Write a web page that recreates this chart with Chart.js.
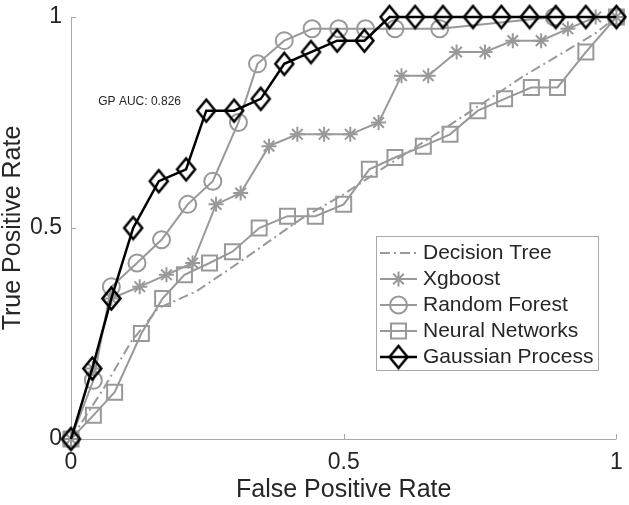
<!DOCTYPE html>
<html>
<head>
<meta charset="utf-8">
<script src="https://cdn.jsdelivr.net/npm/chart.js@4/dist/chart.umd.min.js"></script>
<style>
  body { margin: 0; background: #fff; }
  canvas { display: block; }
</style>
</head>
<body>
<canvas id="rocChart" width="629" height="505"></canvas>
<script>
// tick values / labels for both axes
const tickValues = [0, 0.5, 1];
const tickLabels = ['0', '0.5', '1'];

const seriesNames = ['Decision Tree', 'Xgboost', 'Random Forest', 'Neural Networks', 'Gaussian Process'];

// Decision Tree (dash-dot, no markers)
const dtX = [0, 0.06, 0.11, 0.16, 0.23, 0.31, 0.42, 0.50, 0.57, 0.69, 0.83, 0.96, 1];
const dtY = [0, 0.12, 0.23, 0.31, 0.35, 0.42, 0.52, 0.58, 0.64, 0.74, 0.86, 0.96, 1];

// Xgboost
const xgX = [0, 0.04, 0.074, 0.126, 0.175, 0.223, 0.266, 0.311, 0.363, 0.415, 0.464, 0.512, 0.564, 0.606, 0.655, 0.707, 0.759, 0.810, 0.862, 0.911, 0.962, 1];
const xgY = [0, 0.167, 0.333, 0.361, 0.389, 0.417, 0.556, 0.583, 0.694, 0.722, 0.722, 0.722, 0.75, 0.861, 0.861, 0.917, 0.917, 0.944, 0.944, 0.972, 1, 1];

// Random Forest
const rfX = [0, 0.041, 0.074, 0.121, 0.166, 0.214, 0.260, 0.307, 0.342, 0.391, 0.442, 0.491, 0.540, 0.594, 0.676, 0.886, 1];
const rfY = [0, 0.139, 0.361, 0.417, 0.472, 0.556, 0.611, 0.75, 0.889, 0.944, 0.972, 0.972, 0.972, 0.972, 0.972, 1, 1];

// Neural Networks
const nnX = [0, 0.041, 0.080, 0.129, 0.168, 0.208, 0.254, 0.296, 0.345, 0.397, 0.448, 0.50, 0.547, 0.594, 0.646, 0.695, 0.746, 0.795, 0.844, 0.892, 0.944, 1];
const nnY = [0, 0.056, 0.111, 0.25, 0.333, 0.389, 0.417, 0.444, 0.5, 0.528, 0.528, 0.556, 0.639, 0.667, 0.694, 0.722, 0.778, 0.806, 0.833, 0.833, 0.917, 1];

// Gaussian Process
const gpX = [0, 0.039, 0.074, 0.114, 0.161, 0.211, 0.248, 0.299, 0.348, 0.391, 0.440, 0.488, 0.538, 0.584, 0.631, 0.682, 0.737, 0.789, 0.841, 0.889, 0.944, 1];
const gpY = [0, 0.167, 0.333, 0.5, 0.611, 0.639, 0.778, 0.778, 0.806, 0.889, 0.917, 0.944, 0.944, 1, 1, 1, 1, 1, 1, 1, 1, 1];

const aucText = 'GP AUC: 0.826';
const aucPos = [0.05, 0.8];

const GRAY = '#999999';
const AXIS = '#a8a8a8';
const TEXT = '#262626';
const FONT = "'Liberation Sans', Arial, Helvetica, sans-serif";
const NONE = 'rgba(0,0,0,0)';

function toPoints(xs, ys) {
    return xs.map(function (x, i) { return { x: x, y: ys[i] }; });
}

// matlab style diamond is a bit taller than wide
function diamondMarker(w, h, lw, color) {
    const c = document.createElement('canvas');
    c.width = w + 2 * lw;
    c.height = h + 2 * lw;
    const g = c.getContext('2d');
    const cx = c.width / 2, cy = c.height / 2;
    g.strokeStyle = color;
    g.lineWidth = lw;
    g.lineJoin = 'miter';
    g.beginPath();
    g.moveTo(cx, cy - h / 2);
    g.lineTo(cx + w / 2, cy);
    g.lineTo(cx, cy + h / 2);
    g.lineTo(cx - w / 2, cy);
    g.closePath();
    g.stroke();
    return c;
}

function makeSeries(name, xs, ys, color, style, radius, width, dash, order) {
    return {
        label: name,
        data: toPoints(xs, ys),
        showLine: true,
        borderColor: color,
        borderWidth: width,
        borderDash: dash,
        pointStyle: style,
        pointRadius: radius,
        pointBorderColor: color,
        pointBorderWidth: width,
        pointBackgroundColor: NONE,
        tension: 0,
        clip: false,
        order: order
    };
}

// axis lines with inward ticks, AUC text and the boxed legend
const matlabLook = {
    id: 'matlabLook',
    beforeDatasetsDraw(chart) {
        const ctx = chart.ctx;
        const area = chart.chartArea;
        const xs = chart.scales.x;
        const ys = chart.scales.y;
        ctx.save();
        ctx.strokeStyle = AXIS;
        ctx.lineWidth = 1;
        ctx.beginPath();
        ctx.moveTo(area.left + 0.5, area.top);
        ctx.lineTo(area.left + 0.5, area.bottom + 0.5);
        ctx.lineTo(area.right, area.bottom + 0.5);
        tickValues.forEach(function (v) {
            const px = Math.round(xs.getPixelForValue(v)) + 0.5;
            ctx.moveTo(px, area.bottom);
            ctx.lineTo(px, area.bottom - 5);
            const py = Math.round(ys.getPixelForValue(v)) + 0.5;
            ctx.moveTo(area.left, py);
            ctx.lineTo(area.left + 5, py);
        });
        ctx.stroke();

        ctx.fillStyle = TEXT;
        ctx.font = '12px ' + FONT;
        ctx.textAlign = 'left';
        ctx.textBaseline = 'middle';
        ctx.fillText(aucText, xs.getPixelForValue(aucPos[0]), ys.getPixelForValue(aucPos[1]));
        ctx.restore();
    },
    afterDraw(chart) {
        const ctx = chart.ctx;
        const box = { left: 376, top: 236, right: 598, bottom: 370 };
        ctx.save();
        ctx.fillStyle = '#fff';
        ctx.fillRect(box.left, box.top, box.right - box.left, box.bottom - box.top);
        ctx.strokeStyle = AXIS;
        ctx.lineWidth = 1;
        ctx.strokeRect(box.left + 0.5, box.top + 0.5, box.right - box.left, box.bottom - box.top);

        chart.data.datasets.forEach(function (ds, i) {
            const y = 253 + i * 26;
            ctx.strokeStyle = ds.borderColor;
            ctx.lineWidth = ds.borderWidth;
            ctx.setLineDash(ds.borderDash || []);
            ctx.beginPath();
            ctx.moveTo(380, y);
            ctx.lineTo(417, y);
            ctx.stroke();
            ctx.setLineDash([]);
            if (ds.pointRadius > 0) {
                ctx.fillStyle = NONE;
                Chart.helpers.drawPoint(ctx, {
                    pointStyle: ds.pointStyle,
                    radius: ds.pointRadius,
                    rotation: 0,
                    borderWidth: ds.pointBorderWidth
                }, 398.5, y);
            }
            ctx.fillStyle = TEXT;
            ctx.font = '21px ' + FONT;
            ctx.textAlign = 'left';
            ctx.textBaseline = 'middle';
            ctx.fillText(ds.label, 423, y);
        });
        ctx.restore();
    }
};

function axisOptions(title, isX) {
    return {
        type: 'linear',
        min: 0,
        max: 1,
        afterBuildTicks: function (scale) {
            scale.ticks = tickValues.map(function (v) { return { value: v }; });
        },
        afterFit: function (scale) {
            if (isX) scale.height = 66; else scale.width = 71;
            scale.paddingLeft = 0;
            scale.paddingRight = 0;
            scale.paddingTop = 0;
            scale.paddingBottom = 0;
        },
        grid: { display: false, drawTicks: false },
        border: { display: false },
        ticks: {
            autoSkip: false,
            maxRotation: 0,
            padding: isX ? 10 : 9,
            color: TEXT,
            font: { family: FONT, size: 23 },
            callback: function (v) { return tickLabels[tickValues.indexOf(v)]; }
        },
        title: {
            display: true,
            text: title,
            color: TEXT,
            font: { family: FONT, size: 25, lineHeight: 1 },
            padding: isX ? { top: 0, bottom: 2 } : { top: 1, bottom: 0 }
        }
    };
}

function DrawRoc() {
    const ctx = document.getElementById('rocChart');
    const diamond = diamondMarker(18, 22, 2.5, '#000000');
    new Chart(ctx, {
        type: 'scatter',
        data: {
            datasets: [
                makeSeries(seriesNames[0], dtX, dtY, GRAY, 'circle', 0, 2, [10, 4, 2, 4], 4),
                makeSeries(seriesNames[1], xgX, xgY, GRAY, 'star', 7.5, 2, [], 3),
                makeSeries(seriesNames[2], rfX, rfY, GRAY, 'circle', 8.5, 2, [], 2),
                makeSeries(seriesNames[3], nnX, nnY, GRAY, 'rect', 10.6, 2, [], 1),
                makeSeries(seriesNames[4], gpX, gpY, '#000000', diamond, 10, 2.5, [], 0)
            ]
        },
        options: {
            responsive: false,
            animation: false,
            layout: { padding: { top: 17, right: 10, left: 0, bottom: 0 } },
            plugins: {
                legend: { display: false },
                tooltip: { enabled: false }
            },
            scales: {
                x: axisOptions('False Positive Rate', true),
                y: axisOptions('True Positive Rate', false)
            }
        },
        plugins: [matlabLook]
    });
}
DrawRoc();
</script>
</body>
</html>
